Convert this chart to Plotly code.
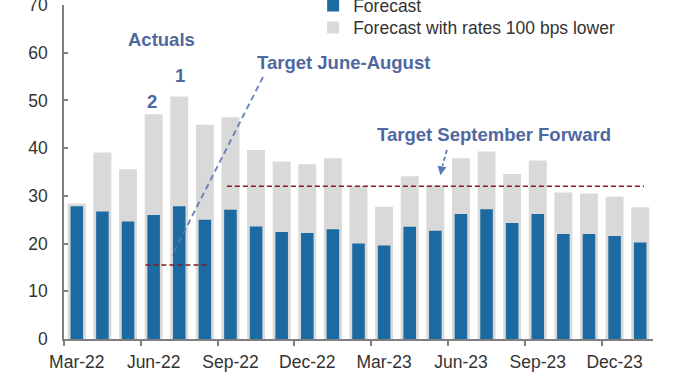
import plotly.graph_objects as go

months = ["Mar-22", "Apr-22", "May-22", "Jun-22", "Jul-22", "Aug-22", "Sep-22", "Oct-22",
          "Nov-22", "Dec-22", "Jan-23", "Feb-23", "Mar-23", "Apr-23", "May-23", "Jun-23",
          "Jul-23", "Aug-23", "Sep-23", "Oct-23", "Nov-23", "Dec-23", "Jan-24"]
forecast = [27.8, 26.7, 24.6, 26.0, 27.8, 25.0, 27.1, 23.6, 22.4, 22.2, 23.0, 20.0,
            19.6, 23.5, 22.7, 26.2, 27.2, 24.3, 26.2, 22.0, 22.0, 21.6, 20.2]
forecast_lower = [28.4, 39.1, 35.6, 47.1, 50.8, 44.9, 46.5, 39.6, 37.2, 36.6, 37.9, 32.0,
                  27.7, 34.1, 32.2, 37.9, 39.3, 34.6, 37.4, 30.7, 30.5, 29.8, 27.6]
xlabels = months[0::3]
target_jun_aug = 15.5
target_sep_fwd = 32.0

x = list(range(len(months)))
BLUE = "#1b6aa1"
GREY = "#d9d9d9"
RED = "#861a22"
ANN = "#5068a0"
FONT = "Liberation Sans, Arial, sans-serif"

fig = go.Figure()
fig.add_trace(go.Bar(x=x, y=forecast_lower, width=0.7, marker_color=GREY, marker_line_width=0,
                     name="Forecast with rates 100 bps lower", legend="legend2"))
fig.add_trace(go.Bar(x=x, y=forecast, width=0.49, marker_color=BLUE, marker_line_width=0,
                     name="Forecast", legend="legend"))

# target lines
fig.add_shape(type="line", xref="x", yref="y", x0=5.86, x1=22.15, y0=target_sep_fwd, y1=target_sep_fwd,
              line=dict(color=RED, width=1.6, dash="5px,3px"))
fig.add_shape(type="line", xref="x", yref="y", x0=2.68, x1=5.09, y0=target_jun_aug, y1=target_jun_aug,
              line=dict(color=RED, width=1.6, dash="5px,3px"))
# pointer lines
fig.add_shape(type="line", xref="x", yref="y", x0=7.27, y0=54.9, x1=3.72, y1=17.5,
              line=dict(color="#5a78b2", width=2, dash="6px,4px"), opacity=0.85)
fig.add_shape(type="line", xref="x", yref="y", x0=14.45, y0=39.6, x1=14.28, y1=36.3,
              line=dict(color="#5a78b2", width=1.8, dash="4px,3px"))
fig.add_annotation(x=14.2, y=34.3, ax=14.27, ay=36.4, axref="x", ayref="y", xref="x", yref="y",
                   text="", showarrow=True, arrowhead=2, arrowsize=1, arrowwidth=1.8,
                   arrowcolor="#5a78b2")

afont = dict(family=FONT, size=18.5, color=ANN)
fig.add_annotation(x=3.32, y=62.7, text="<b>Actuals</b>", showarrow=False, font=afont)
fig.add_annotation(x=4.02, y=55.3, text="<b>1</b>", showarrow=False, font=afont)
fig.add_annotation(x=2.93, y=49.8, text="<b>2</b>", showarrow=False, font=afont)
fig.add_annotation(x=6.95, y=57.9, text="<b>Target June-August</b>", showarrow=False,
                   xanchor="left", font=afont)
fig.add_annotation(x=11.65, y=42.8, text="<b>Target September Forward</b>", showarrow=False,
                   xanchor="left", font=afont)

leg = dict(xanchor="left", yanchor="top", bgcolor="rgba(0,0,0,0)",
           font=dict(size=17.5, color="#333333"), itemwidth=30)
fig.update_layout(
    width=680, height=383,
    margin=dict(l=64, r=27, t=5, b=44, autoexpand=False),
    paper_bgcolor="white", plot_bgcolor="white",
    barmode="overlay",
    font=dict(family=FONT, size=17.5, color="#333333"),
    showlegend=True,
    legend=dict(x=0.423, y=1.052, **leg),
    legend2=dict(x=0.423, y=0.986, **leg),
    xaxis=dict(range=[-0.5, 22.5], tickmode="array", tickvals=x[0::3], ticktext=xlabels,
               ticks="", showline=True, linecolor="#7f7f7f", linewidth=1.5, showgrid=False,
               zeroline=False, ticklabelstandoff=6, ticklabeloverflow="allow",
               minor=dict(tick0=-0.5, dtick=3, ticks="outside", ticklen=5, tickcolor="#7f7f7f",
                          tickwidth=1.5, showgrid=False)),
    yaxis=dict(range=[0, 70], dtick=10, ticks="inside", ticklen=4, tickcolor="#7f7f7f", tickwidth=1.5,
               showline=True, linecolor="#7f7f7f", linewidth=1.5, showgrid=False, zeroline=False,
               ticklabelstandoff=11, ticklabeloverflow="allow"),
)

fig.write_html("out.html", config={"displayModeBar": False},
               post_script="document.body.style.margin='0';document.body.style.overflow='hidden';")
